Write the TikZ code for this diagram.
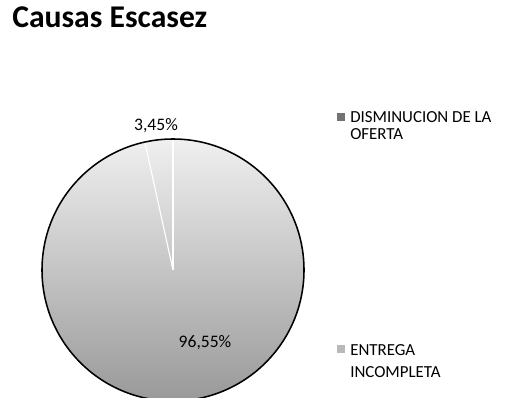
\documentclass[tikz,border=0pt]{standalone}
\usepackage{fontspec}
\setmainfont{Carlito}
\usepackage{xcolor}
\usetikzlibrary{positioning,shapes,calc}

\tikzset{
  legtext/.style={anchor=base west, inner sep=0pt, font=\fontsize{12}{14}\selectfont},
  legbox/.style={draw=none, minimum size=0.2cm, inner sep=0pt},
  pctlabel/.style={inner sep=0pt, font=\fontsize{12.5}{15}\selectfont}
}

\begin{document}
\begin{tikzpicture}
    \useasboundingbox (0,0) rectangle (12.8,9.925);
    \coordinate (ctr) at (4.325,3.175);

    \shade[top color=gray!12, middle color=gray!55, bottom color=gray!80, shading angle=0] (ctr) circle (3.275);
    \draw[white, line width=0.8pt] (ctr) -- ++(90:3.275);
    \draw[white, line width=0.8pt] (ctr) -- ++(102.42:3.275);
    \draw[black, line width=1.1pt] (ctr) circle (3.275);

    \node[anchor=base west, inner sep=0pt, font=\fontsize{22.5}{26}\selectfont\bfseries] at (0.3,9.225) (title) {Causas Escasez};

    \node[pctlabel] at (3.9,6.775) (pctA) {3,45\%};
    \node[pctlabel] at (5.125,1.35) (pctB) {96,55\%};

    \node[legbox, fill=gray!90!black] at (8.525,7.0) (keyA) {};
    \node[legtext] at (8.75,6.875) (legA) {DISMINUCION DE LA};
    \node[legtext] at (8.75,6.43) (legAb) {OFERTA};

    \node[legbox, fill=gray!55] at (8.525,1.2) (keyB) {};
    \node[legtext] at (8.75,1.05) (legB) {ENTREGA};
    \node[legtext] at (8.75,0.5) (legBb) {INCOMPLETA};
\end{tikzpicture}
\end{document}
